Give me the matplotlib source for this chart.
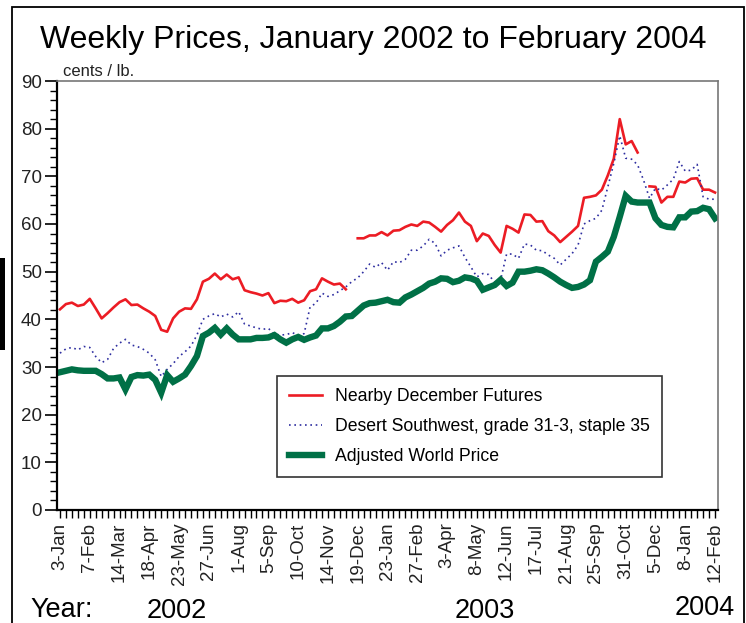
# -*- coding: utf-8 -*-

#%% Import required libraries
import matplotlib
matplotlib.use('Agg')
import matplotlib.pyplot as plt
from matplotlib.patches import Rectangle
import numpy as np

#%% Data (cents / lb., weekly, 3-Jan-2002 .. 12-Feb-2004)
nan = np.nan

futures = [42.1, 43.2, 43.5, 42.8, 43.1, 44.3, 42.3, 40.2, 41.3, 42.5,
           43.6, 44.2, 43.0, 43.1, 42.3, 41.6, 40.7, 37.8, 37.4, 40.2,
           41.6, 42.3, 42.2, 44.2, 47.9, 48.5, 49.6, 48.4, 49.4, 48.4,
           48.8, 46.1, 45.7, 45.4, 45.0, 45.5, 43.4, 43.9, 43.8, 44.3,
           43.5, 44.0, 45.9, 46.3, 48.6, 47.9, 47.3, 47.5, 46.3, nan,
           57.0, 57.0, 57.6, 57.6, 58.3, 57.6, 58.6, 58.7, 59.4, 59.9,
           59.6, 60.5, 60.3, 59.4, 58.4, 59.8, 60.8, 62.4, 60.5, 59.6,
           56.4, 58.0, 57.5, 55.6, 54.0, 59.6, 59.0, 58.2, 62.0, 61.9,
           60.5, 60.6, 58.5, 57.6, 56.2, 57.3, 58.4, 59.6, 65.5, 65.7,
           66.0, 67.2, 70.2, 73.7, 82.0, 76.7, 77.4, 75.0, nan, 67.9,
           67.8, 64.5, 65.7, 65.7, 68.9, 68.7, 69.5, 69.6, 67.2, 67.2,
           66.6]

desert_sw = [32.9, 33.8, 34.1, 33.6, 34.3, 34.1, 32.2, 30.9, 31.6, 33.9,
             35.0, 35.8, 34.6, 34.3, 33.7, 32.9, 31.5, 28.0, 29.5, 30.7,
             32.2, 33.2, 34.4, 36.7, 40.0, 40.7, 41.2, 40.5, 41.1, 40.5,
             41.6, 39.0, 38.6, 38.2, 37.9, 38.1, 36.9, 36.7, 36.8, 37.2,
             36.7, 37.0, 42.6, 43.4, 45.5, 44.8, 45.2, 46.0, 46.8, 47.9,
             48.7, 50.0, 51.6, 50.9, 51.9, 50.3, 52.1, 51.9, 52.6, 54.5,
             54.5, 55.4, 56.8, 55.9, 53.3, 54.5, 55.0, 55.4, 53.0, 51.0,
             48.9, 49.6, 49.4, 47.7, 48.3, 53.7, 53.7, 52.8, 55.8, 55.6,
             54.5, 54.4, 53.5, 52.8, 51.4, 52.6, 53.8, 55.6, 60.0, 60.7,
             61.2, 62.9, 67.8, 72.7, 78.5, 73.8, 73.6, 72.4, 69.2, 65.4,
             67.5, 67.1, 68.2, 69.4, 73.1, 71.1, 71.3, 72.5, 65.7, 65.2,
             65.2]

awp = [28.9, 29.2, 29.5, 29.3, 29.2, 29.2, 29.2, 28.5, 27.6, 27.6,
       27.8, 25.3, 27.9, 28.3, 28.2, 28.4, 27.3, 24.6, 28.3, 26.9,
       27.6, 28.4, 30.2, 32.3, 36.5, 37.2, 38.2, 36.8, 38.1, 36.8,
       35.8, 35.8, 35.8, 36.1, 36.1, 36.2, 36.7, 35.8, 35.1, 35.8,
       36.3, 35.7, 36.2, 36.6, 38.1, 38.1, 38.6, 39.5, 40.6, 40.7,
       41.8, 42.9, 43.4, 43.5, 43.8, 44.1, 43.6, 43.5, 44.6, 45.2,
       45.9, 46.6, 47.5, 47.9, 48.6, 48.5, 47.8, 48.1, 48.8, 48.6,
       48.1, 46.2, 46.7, 47.2, 48.3, 47.0, 47.7, 50.0, 50.0, 50.2,
       50.5, 50.3, 49.6, 48.8, 47.9, 47.2, 46.6, 46.8, 47.3, 48.2,
       52.1, 53.1, 54.2, 57.3, 61.5, 65.9, 64.7, 64.5, 64.5, 64.5,
       61.2, 59.8, 59.4, 59.3, 61.4, 61.4, 62.6, 62.7, 63.4, 63.1,
       61.2]

tick_labels = ['3-Jan', '7-Feb', '14-Mar', '18-Apr', '23-May', '27-Jun',
               '1-Aug', '5-Sep', '10-Oct', '14-Nov', '19-Dec', '23-Jan',
               '27-Feb', '3-Apr', '8-May', '12-Jun', '17-Jul', '21-Aug',
               '25-Sep', '31-Oct', '5-Dec', '8-Jan', '12-Feb']
label_step = 5  # weeks between labelled ticks

years = ['2002', '2003', '2004']

#%% Plot
plt.rcParams['font.family'] = ['Liberation Sans', 'DejaVu Sans']

W, H = 746, 623
fig = plt.figure(figsize=(W/100, H/100), dpi=100)
ax = fig.add_axes([57/W, 1-510/H, 661/W, 429/H])

weeks = np.arange(len(awp))
ax.plot(weeks, futures, color='#ec1c24', lw=1.9, label='Nearby December Futures')
ax.plot(weeks, desert_sw, color='#2e2ea0', lw=1.2, ls=(0, (1, 2.2)),
        label='Desert Southwest, grade 31-3, staple 35')
ax.plot(weeks, awp, color='#007046', lw=4.6, solid_joinstyle='miter',
        label='Adjusted World Price')

ax.set_xlim(-0.5, len(awp) - 0.5)
ax.set_ylim(0, 90)
ax.set_yticks(np.arange(0, 91, 10))
ax.set_yticks(np.arange(0, 91, 2), minor=True)
ax.set_xticks(weeks[::label_step])
ax.set_xticklabels(tick_labels, rotation=90, fontsize=13.5, color='#222222')
ax.set_xticks(weeks, minor=True)
ax.tick_params(axis='y', which='major', length=9, width=1.2, labelsize=13.5,
               pad=2, labelcolor='#222222')
ax.tick_params(axis='y', which='minor', length=5, width=1)
ax.tick_params(axis='x', which='both', length=6, width=1, pad=3)

for s in ['left', 'bottom']:
    ax.spines[s].set_linewidth(1.6)
for s in ['top', 'right']:
    ax.spines[s].set_color('#777777')
    ax.spines[s].set_linewidth(1.2)

leg = ax.legend(loc='upper left', bbox_to_anchor=(220/661, 134/429),
                borderaxespad=0, fontsize=12.7, frameon=True, fancybox=False,
                handlelength=1.85, handletextpad=0.75, borderpad=0.7,
                labelspacing=0.72)
leg.get_frame().set_edgecolor('black')
leg.get_frame().set_linewidth(1.2)

fig.text(0.5, 1-40/H, 'Weekly Prices, January 2002 to February 2004',
         ha='center', va='center', fontsize=23)
ax.text(6/661, 1.005, 'cents / lb.', transform=ax.transAxes, fontsize=12,
        ha='left', va='bottom', color='#222222')

fig.text(30/W, 1-617/H, 'Year:', fontsize=19.5, va='baseline')
fig.text(177/W, 1-618/H, years[0], fontsize=19.5, ha='center', va='baseline')
fig.text(485/W, 1-618/H, years[1], fontsize=19.5, ha='center', va='baseline')
fig.text(705/W, 1-615/H, years[2], fontsize=19.5, ha='center', va='baseline')

# outer frame and scan artefact at the left edge
fig.patches.append(Rectangle((12/W, -0.05), 732/W, 1.05 - 7/H, transform=fig.transFigure,
                             fill=False, ec='black', lw=1.3))
fig.patches.append(Rectangle((0, 1-350/H), 5/W, 92/H, transform=fig.transFigure,
                             fc='black', ec='none'))

fig.savefig('out.png', dpi=100)
